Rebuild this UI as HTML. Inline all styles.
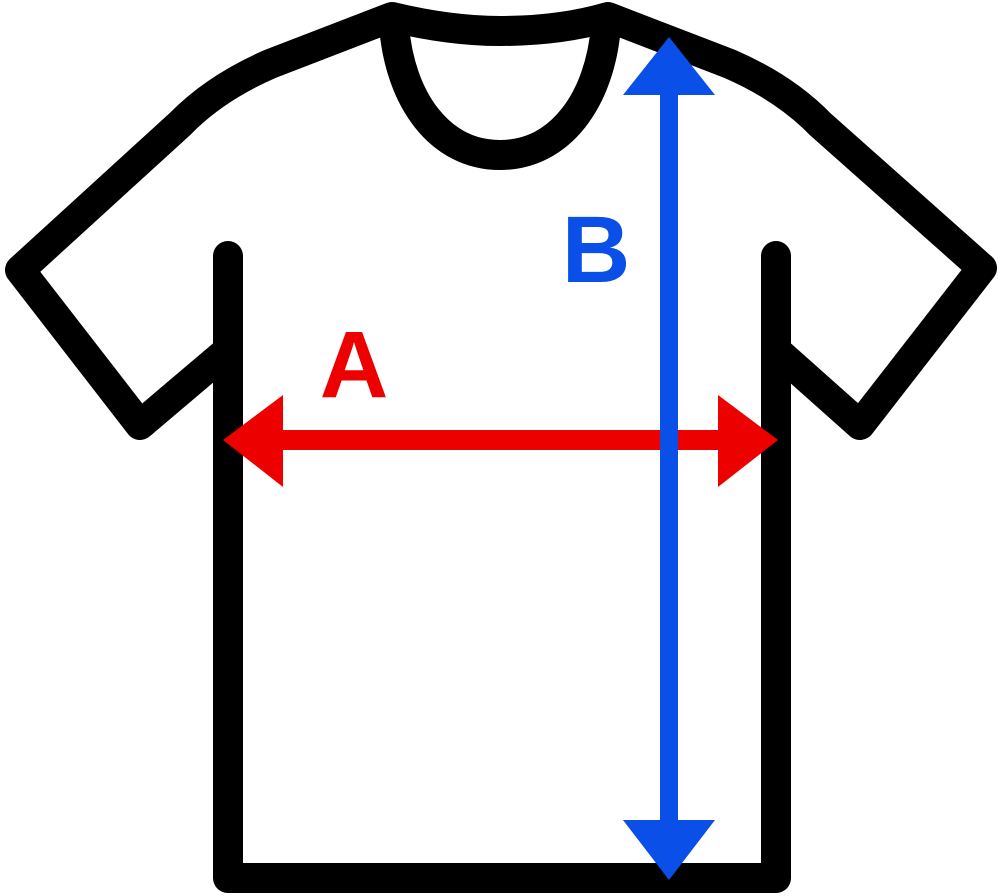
<!DOCTYPE html>
<html><head><meta charset="utf-8"><style>html,body{margin:0;padding:0;background:#fff;}svg{display:block}</style></head>
<body>
<svg width="1000" height="896" viewBox="0 0 1000 896" xmlns="http://www.w3.org/2000/svg">
<g fill="none" stroke="#000" stroke-width="30" stroke-linejoin="round" stroke-linecap="round">
<path d="M228 256 L228 878 L776 878 L776 256"/>
<path d="M226 352 L140 425 L20 270 L180 124 Q215 88 270 64 L392 17 Q450 31 500 31 Q560 31 608 17 L730 64 Q785 88 820 124 L982 268 L860 425 L778 352"/>
<path d="M394 26 C400 100 440 155 500 155 C560 155 600 100 606 26"/>
</g>
<g fill="#ec0000">
<rect x="270" y="430" width="460" height="20"/>
<polygon points="223,440 283,395 283,487"/>
<polygon points="778,440 718,395 718,487"/>
<text x="354" y="397" font-family="Liberation Sans, sans-serif" font-weight="bold" font-size="95" text-anchor="middle">A</text>
</g>
<g fill="#0a4fe8">
<rect x="660" y="80" width="18" height="760"/>
<polygon points="669,37 623,95 715,95"/>
<polygon points="669,880 623,820 715,820"/>
<text x="596" y="282" font-family="Liberation Sans, sans-serif" font-weight="bold" font-size="95" text-anchor="middle">B</text>
</g>
</svg>
</body></html>
